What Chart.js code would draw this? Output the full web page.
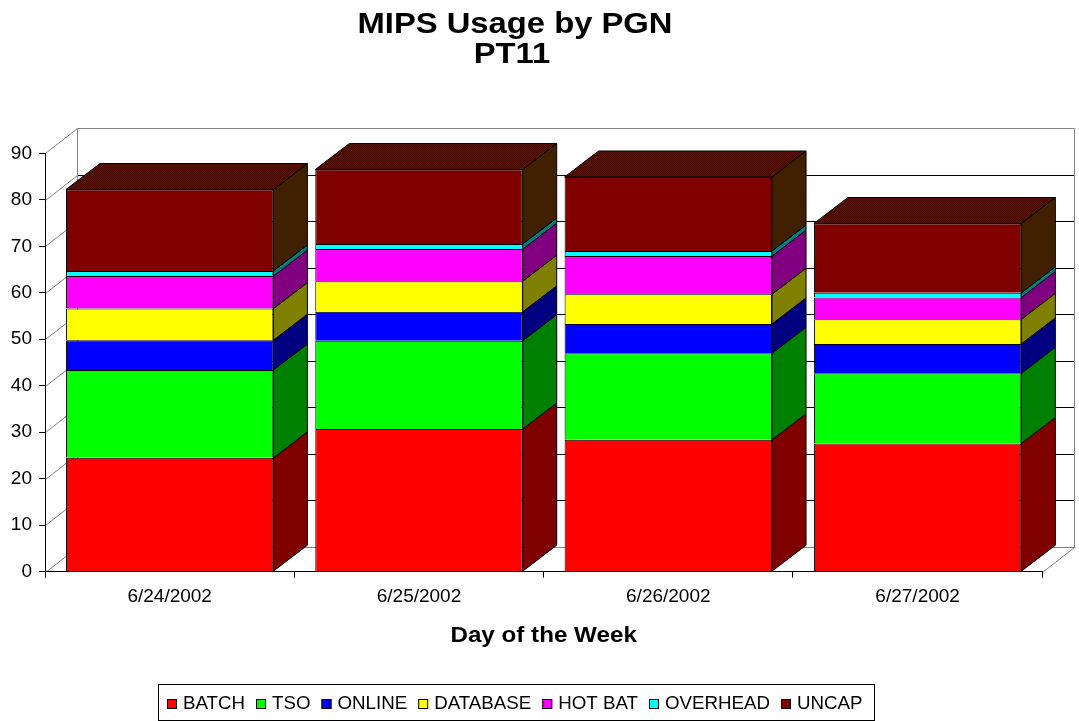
<!DOCTYPE html>
<html><head><meta charset="utf-8">
<script src="https://cdn.jsdelivr.net/npm/chart.js@4.4.1/dist/chart.umd.min.js"></script>
<style>html,body{margin:0;padding:0;background:#fff;}#wrap{width:1079px;height:721px;position:relative;}</style>
</head><body><div id="wrap"><canvas id="c" width="1079" height="721"></canvas></div>
<script>
// ---- data ----
const categories = ['6/24/2002', '6/25/2002', '6/26/2002', '6/27/2002'];
const batch    = [24.5, 30.7, 28.4, 27.6];
const tso      = [18.9, 19.0, 18.6, 15.1];
const online   = [6.4, 6.2, 6.3, 6.3];
const database = [6.8, 6.6, 6.4, 5.3];
const hotBat   = [7.0, 6.9, 8.2, 4.7];
const overhead = [1.1, 1.1, 1.1, 1.0];
const uncap    = [17.5, 16.0, 15.9, 14.9];
const seriesNames = ['BATCH', 'TSO', 'ONLINE', 'DATABASE', 'HOT BAT', 'OVERHEAD', 'UNCAP'];
const yMin = 0, yMax = 90, yStep = 10;
const titleLines = ['MIPS Usage by PGN', 'PT11'];
const xTitle = 'Day of the Week';

// ---- styles ----
const seriesValues = [batch, tso, online, database, hotBat, overhead, uncap];
const frontColors = ['#ff0000', '#00ff00', '#0000ff', '#ffff00', '#ff00ff', '#00ffff', '#800000'];
const sideColors  = ['#800000', '#008000', '#000080', '#808000', '#800080', '#008080', '#402000'];
const FONT = '"Liberation Sans", Arial, sans-serif';
const DX = 34, DY = -26;     // bar depth
const WDX = 32, WDY = -25;   // wall depth

function topPattern(ctx) {
  const c = document.createElement('canvas'); c.width = 2; c.height = 2;
  const p = c.getContext('2d');
  p.fillStyle = '#800000'; p.fillRect(0, 0, 2, 2);
  p.fillStyle = '#4a0a00'; p.fillRect(0, 0, 1, 1); p.fillRect(1, 1, 1, 1);
  return ctx.createPattern(c, 'repeat');
}

function textScaled(ctx, str, x, y, sx) {
  ctx.save();
  ctx.translate(x, y);
  ctx.scale(sx, 1);
  ctx.fillText(str, 0, 0);
  ctx.restore();
}

const wallPlugin = {
  id: 'walls',
  beforeDraw(chart) {
    const { ctx, chartArea: a, scales: { y } } = chart;
    ctx.save();
    ctx.fillStyle = '#fff';
    ctx.fillRect(0, 0, chart.width, chart.height);
    ctx.lineWidth = 1;
    const L = Math.round(a.left) + 0.5, R = Math.round(a.right) + 0.5;
    const bL = L + WDX, bR = R + WDX;
    for (let v = yMin; v <= yMax; v += yStep) {
      const py = Math.round(y.getPixelForValue(v)) + 0.5;
      const by = py + WDY;
      ctx.strokeStyle = '#808080';
      ctx.beginPath(); ctx.moveTo(L, py); ctx.lineTo(bL, by); ctx.stroke();
      ctx.strokeStyle = (v === yMin || v === yMax) ? '#808080' : '#000';
      ctx.beginPath(); ctx.moveTo(bL, by); ctx.lineTo(bR, by); ctx.stroke();
    }
    const topY = Math.round(y.getPixelForValue(yMax)) + 0.5 + WDY;
    const botY = Math.round(y.getPixelForValue(yMin)) + 0.5;
    ctx.strokeStyle = '#808080';
    ctx.beginPath();
    ctx.moveTo(bL, topY); ctx.lineTo(bL, botY + WDY);
    ctx.moveTo(bR, topY); ctx.lineTo(bR, botY + WDY);
    ctx.moveTo(R, botY); ctx.lineTo(bR, botY + WDY);
    ctx.stroke();
    ctx.restore();
  },
  afterDatasetsDraw(chart) {
    const { ctx } = chart;
    ctx.save();
    ctx.lineWidth = 1;
    ctx.strokeStyle = '#000';
    const n = chart.data.datasets.length;
    const pat = topPattern(ctx);
    for (let d = 0; d < n; d++) {
      const meta = chart.getDatasetMeta(d);
      meta.data.forEach((el) => {
        const p = el.getProps(['x', 'y', 'base', 'width'], true);
        const left = p.x - p.width / 2, right = p.x + p.width / 2;
        const top = Math.min(p.y, p.base), bot = Math.max(p.y, p.base);
        ctx.fillStyle = sideColors[d];
        ctx.beginPath();
        ctx.moveTo(right, top); ctx.lineTo(right + DX, top + DY);
        ctx.lineTo(right + DX, bot + DY); ctx.lineTo(right, bot);
        ctx.closePath(); ctx.fill(); ctx.stroke();
        if (d === n - 1) {
          ctx.fillStyle = pat;
          ctx.beginPath();
          ctx.moveTo(left, top); ctx.lineTo(left + DX, top + DY);
          ctx.lineTo(right + DX, top + DY); ctx.lineTo(right, top);
          ctx.closePath(); ctx.fill(); ctx.stroke();
        }
      });
    }
    ctx.restore();
  },
  afterDraw(chart) {
    const { ctx, chartArea: a } = chart;
    ctx.save();
    ctx.fillStyle = '#000';
    ctx.textAlign = 'center';
    ctx.textBaseline = 'alphabetic';
    ctx.font = 'bold 29px ' + FONT;
    textScaled(ctx, titleLines[0], 515, 33, 1.13);
    textScaled(ctx, titleLines[1], 512, 63, 1.13);
    ctx.font = 'bold 22px ' + FONT;
    textScaled(ctx, xTitle, (a.left + a.right) / 2, 642, 1.1);
    // legend
    const sx = 0.985;
    ctx.font = '19px ' + FONT;
    ctx.textAlign = 'left';
    ctx.textBaseline = 'middle';
    let x = 167;
    const ly = 704;
    ctx.lineWidth = 1;
    chart.data.datasets.forEach((ds, i) => {
      ctx.fillStyle = frontColors[i];
      ctx.fillRect(x, ly - 5, 10, 10);
      ctx.strokeStyle = '#000';
      ctx.strokeRect(x + 0.5, ly - 4.5, 9, 9);
      ctx.fillStyle = '#000';
      textScaled(ctx, ds.label, x + 16, ly, sx);
      x += 16 + ctx.measureText(ds.label).width * sx + 11;
    });
    ctx.strokeStyle = '#000';
    ctx.strokeRect(158.5, 684.5, Math.round(x - 158), 36);
    ctx.restore();
  }
};

const datasets = seriesNames.map((name, i) => ({
  label: name,
  data: seriesValues[i],
  backgroundColor: frontColors[i],
  borderColor: '#000',
  borderWidth: 1,
  barPercentage: 0.832,
  categoryPercentage: 1.0
}));

new Chart(document.getElementById('c'), {
  type: 'bar',
  data: { labels: categories, datasets },
  plugins: [wallPlugin],
  options: {
    responsive: false,
    animation: false,
    devicePixelRatio: 1,
    layout: { padding: { top: 153.3, left: 0, right: 36.7, bottom: 0 } },
    plugins: { legend: { display: false }, title: { display: false }, tooltip: { enabled: false } },
    scales: {
      x: {
        stacked: true,
        afterFit(s) { s.height = 721 - 571.7; },
        grid: { display: true, drawOnChartArea: false, drawTicks: true, tickLength: 6, color: '#000', offset: true },
        border: { display: true, color: '#000', width: 1 },
        ticks: { color: '#000', font: { family: FONT, size: 19 }, padding: 8, maxRotation: 0 }
      },
      y: {
        stacked: true,
        min: yMin, max: yMax,
        afterFit(s) { s.width = 45; },
        grid: { display: true, drawOnChartArea: false, drawTicks: true, tickLength: 6, color: '#000' },
        border: { display: true, color: '#000', width: 1 },
        ticks: { stepSize: yStep, color: '#000', font: { family: FONT, size: 19 }, padding: 7 }
      }
    }
  }
});
</script></body></html>
